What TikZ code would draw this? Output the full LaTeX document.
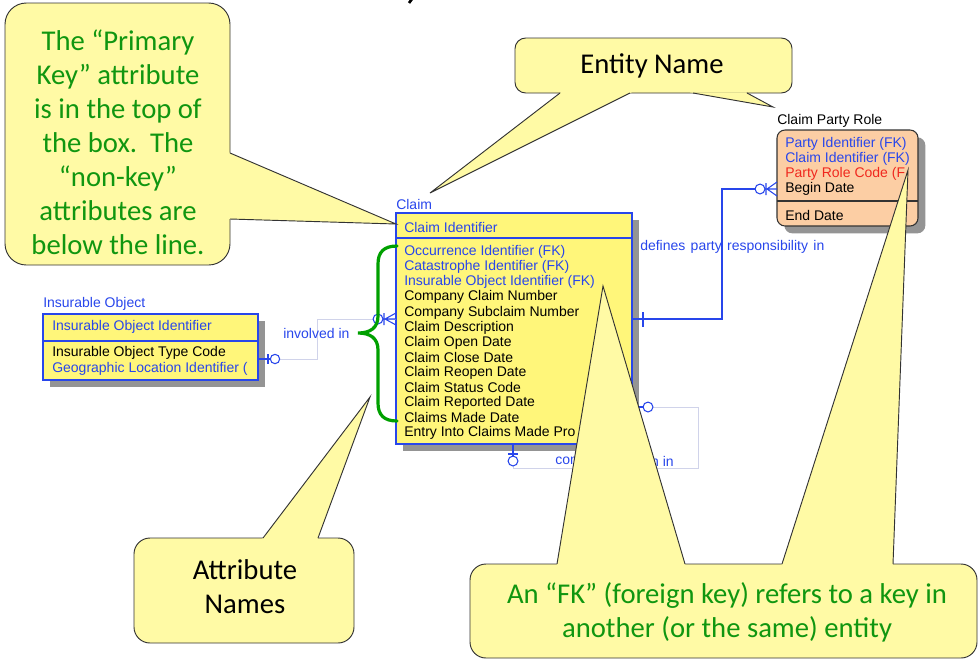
\documentclass[tikz,border=0pt]{standalone}
\usepackage{fontspec}
\newfontfamily\erfont{Liberation Sans}
\newfontfamily\notefont{Carlito}
\usetikzlibrary{shadows,calc}
\definecolor{erblue}{RGB}{40,70,235}
\definecolor{erred}{RGB}{240,40,30}
\definecolor{entyellow}{RGB}{255,246,122}
\definecolor{entpeach}{RGB}{252,206,164}
\definecolor{noteyellow}{RGB}{255,250,165}
\definecolor{notegreen}{RGB}{16,150,16}
\definecolor{bracegreen}{RGB}{0,160,0}
\definecolor{relgrey}{RGB}{208,211,234}
\tikzset{
  entity/.style={draw=erblue, line width=0.8pt, fill=entyellow, inner sep=0pt,
    outer sep=0pt, anchor=north west,
    drop shadow={shadow xshift=5.5pt, shadow yshift=-5.5pt, fill=black!42, opacity=1}},
  entlabel/.style={font=\erfont\fontsize{10.5}{12}\selectfont, inner sep=0pt, anchor=west},
  attr/.style={font=\erfont\fontsize{10.5}{12}\selectfont, inner sep=0pt, anchor=west},
  relline/.style={draw=relgrey, line width=0.7pt},
  relsym/.style={draw=erblue, line width=0.8pt},
  brace/.style={draw=bracegreen, line width=2.4pt, line cap=round},
  notebox/.style={draw=black!80, line width=0.7pt, fill=noteyellow, rounded corners=#1},
  noteline/.style={draw=black!80, line width=0.7pt},
  notetext/.style={font=\notefont\fontsize{21.5}{25.5}\selectfont, align=center, inner sep=0pt},
}
% pointer of a callout: base point, tip, base point
\newcommand\pointer[3]{%
  \fill[noteyellow] ($(#2)!1.04!(#1)$) -- (#2) -- ($(#2)!1.04!(#3)$) -- cycle;
  \draw[noteline] (#1) -- (#2) -- (#3);}
\begin{document}
\begin{tikzpicture}[x=0.75pt,y=-0.75pt]
\useasboundingbox (0,0) rectangle (980,665);
% tail of the cut-off title
\draw[line width=2pt] (412,-1) -- (409,3);

% Insurable Object
\node[entity, minimum width=161.25pt, minimum height=49.5pt] (insobj) at (43,314) {};
\draw[erblue, line width=0.8pt] (insobj.west |- 0,341) -- (insobj.east |- 0,341);
\node[entlabel, text=erblue] (insobjname) at (43,304) {Insurable Object};
\node[attr, text=erblue] (insobjpk) at (52,327) {Insurable Object Identifier};
\node[attr] (insobja1) at (52,353) {Insurable Object Type Code};
\node[attr, text=erblue] (insobja2) at (52,369) {Geographic Location Identifier (};

% Claim
\node[entity, minimum width=177pt, minimum height=173.25pt] (claim) at (396,213) {};
\draw[erblue, line width=0.8pt] (claim.west |- 0,238) -- (claim.east |- 0,238);
\node[entlabel, text=erblue] (claimname) at (396,204) {Claim};
\node[attr, text=erblue] (claimpk) at (404,227) {Claim Identifier};
\foreach \txt/\col [count=\i] in {Occurrence Identifier (FK)/erblue,
    Catastrophe Identifier (FK)/erblue, Insurable Object Identifier (FK)/erblue,
    Company Claim Number/black, Company Subclaim Number/black,
    Claim Description/black, Claim Open Date/black, Claim Close Date/black,
    Claim Reopen Date/black, Claim Status Code/black, Claim Reported Date/black,
    Claims Made Date/black, Entry Into Claims Made Pro/black}
  \node[attr, text=\col] (claima\i) at (404,{237+15.08*\i}) {\txt};

% Claim Party Role
\node[entity, rounded corners=6pt, draw=black!80, fill=entpeach,
  minimum width=105.75pt, minimum height=72pt] (cpr) at (777,130) {};
\draw[black!80, line width=0.8pt] (cpr.west |- 0,201) -- (cpr.east |- 0,201);
\node[entlabel] (cprname) at (777,121) {Claim Party Role};
\node[attr, text=erblue] (cpra1) at (785,144) {Party Identifier (FK)};
\node[attr, text=erblue] (cpra2) at (785,159) {Claim Identifier (FK)};
\node[attr, text=erred] (cpra3) at (785,174) {Party Role Code (F};
\node[attr] (cpra4) at (785,189) {Begin Date};
\node[attr] (cpra5) at (785,215) {End Date};

% involved in
\draw[relline] (insobj.east |- 0,359) -- (317,359) -- (317,319) -- (claim.west |- 0,319);
\draw[relsym] (insobj.east |- 0,359) -- (271,359) (268,354) -- (268,364);
\draw[relsym, fill=white] (275,359) circle[radius=3.5pt];
\draw[relsym, fill=white] (378,319) circle[radius=3.7pt];
\draw[relsym] (384,313) -- (384,325) (385,319) -- (claim.west |- 0,313)
  (385,319) -- (claim.west |- 0,325) (383,319) -- (claim.west |- 0,319);
\node[attr, text=erblue] (rel1) at (283,333) {involved in};

% defines party responsibility in
\draw[relsym] (claim.east |- 0,319) -- (722,319) -- (722,189) -- (755,189);
\draw[relsym] (643,312) -- (643,327);
\draw[relsym, fill=white] (760,189) circle[radius=3.7pt];
\draw[relsym] (766,183) -- (766,195) (767,189) -- (cpr.west |- 0,182)
  (767,189) -- (cpr.west |- 0,196) (765,189) -- (cpr.west |- 0,189);
\node[attr, text=erblue] (rel2) at (640,247) {\spaceskip=4pt\relax defines party responsibility in};

% recursive relationship on Claim
\draw[relline] (claim.south -| 513,0) -- (513,468) -- (698,468) -- (698,407) -- (claim.east |- 0,407);
\draw[relsym] (claim.south -| 513,0) -- (513,456) (508,454) -- (518,454);
\draw[relsym, fill=white] (513,461) circle[radius=3.7pt];
\draw[relsym] (claim.east |- 0,407) -- (644,407);
\draw[relsym, fill=white] (648,407) circle[radius=3.7pt];
\node[attr, text=erblue] (rel3a) at (555,461) {com};
\node[attr, text=erblue, anchor=east] (rel3b) at (674,461) {n in};

% attribute brace
\draw[brace] (397,246) .. controls (384,246) and (378,252) .. (378,264) -- (378,316)
  .. controls (378,328) and (370,333) .. (358,333)
  .. controls (370,333) and (378,338) .. (378,350) -- (378,403)
  .. controls (378,415) and (384,421) .. (397,421);

% callouts
\draw[notebox=16pt] (5,3) rectangle (230,265);
\pointer{230,153}{396,224}{230,219}
\node[notetext, text=notegreen] (pknote) at (118,142)
  {The “Primary\\Key” attribute\\is in the top of\\the box.\ \ The\\“non-key”\\attributes are\\below the line.};

\draw[notebox=8pt] (515,38) rectangle (792,93);
\pointer{560,93}{430,193}{630,93}
\pointer{693,93}{773,107}{747,93}
\node[notetext] (namenote) at (652,66) {Entity Name};

\draw[notebox=12pt] (134,538) rectangle (354,643);
\pointer{263,538}{370,397}{318,538}
\node[notetext] (attrnote) at (245,587) {Attribute\\Names};

\draw[notebox=12pt] (470,564) rectangle (977,658);
\pointer{557,564}{603,286}{685,564}
\pointer{782,564}{908,170}{893,564}
\node[notetext, text=notegreen] (fknote) at (727,612)
  {An “FK” (foreign key) refers to a key in\\another (or the same) entity};
\end{tikzpicture}
\end{document}
